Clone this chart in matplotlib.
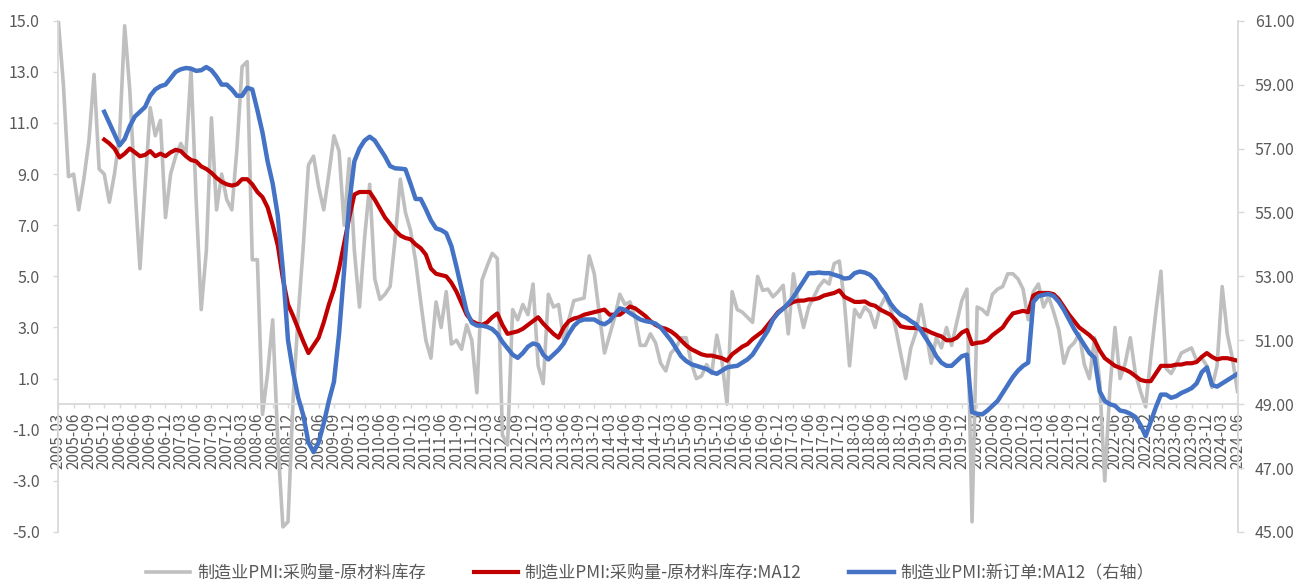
import matplotlib
matplotlib.use("Agg")
import matplotlib.pyplot as plt
import numpy as np
import pandas as pd

plt.rcParams['font.family'] = ['Noto Sans CJK SC', 'DejaVu Sans']

# monthly categories 2005-03 .. 2024-06
months = pd.period_range('2005-03', '2024-06', freq='M').strftime('%Y-%m').tolist()

# 制造业PMI:采购量-原材料库存 (left axis)
gray = [
    15.0, 12.5, 8.9, 9.0, 7.6, 8.8, 10.3, 12.9, 9.2, 9.0,
    7.9, 9.0, 10.5, 14.8, 12.3, 8.5, 5.3, 8.5, 11.6, 10.5,
    11.1, 7.3, 9.0, 9.7, 10.2, 9.8, 13.1, 8.0, 3.7, 6.0,
    11.2, 7.6, 9.0, 8.0, 7.6, 10.0, 13.2, 13.4, 5.65, 5.65,
    -0.4, 1.2, 3.3, -1.5, -4.8, -4.6, 0.2, 3.5, 6.2, 9.35,
    9.7, 8.5, 7.6, 9.0, 10.5, 9.9, 7.0, 9.6, 6.0, 3.8,
    6.5, 8.6, 4.9, 4.1, 4.3, 4.6, 6.5, 8.8, 7.5, 6.8,
    5.6, 4.0, 2.5, 1.8, 4.0, 3.0, 4.4, 2.35, 2.5, 2.15,
    3.1, 2.5, 0.45, 4.85, 5.4, 5.9, 5.7, -1.2, -1.6, 3.7,
    3.3, 3.9, 3.5, 4.7, 1.5, 0.8, 4.3, 3.8, 3.9, 2.5,
    3.3, 4.05, 4.1, 4.15, 5.8, 5.1, 3.5, 2.0, 2.7, 3.4,
    4.3, 3.9, 4.0, 3.4, 2.3, 2.3, 2.75, 2.4, 1.6, 1.3,
    2.0, 2.2, 2.6, 2.6, 1.6, 1.0, 1.1, 1.55, 1.2, 2.7,
    1.7, 0.0, 4.4, 3.7, 3.6, 3.4, 3.2, 5.0, 4.45, 4.5,
    4.2, 4.4, 4.65, 2.75, 5.1, 3.9, 3.0, 3.8, 4.2, 4.6,
    4.85, 4.7, 5.5, 5.6, 4.0, 1.5, 3.7, 3.4, 3.8, 3.6,
    3.0, 3.8, 4.2, 3.8, 3.0, 2.0, 1.0, 2.2, 2.8, 3.9,
    2.8, 1.6, 2.6, 2.2, 3.0, 2.3, 3.2, 4.05, 4.5, -4.6,
    3.8, 3.7, 3.5, 4.3, 4.5, 4.6, 5.1, 5.1, 4.9, 4.5,
    3.3, 4.4, 4.7, 3.8, 4.2, 3.6, 2.9, 1.6, 2.2, 2.4,
    2.75, 1.55, 1.0, 2.6, 0.9, -3.0, 0.6, 3.0, 1.0, 1.6,
    2.6, 1.2, 0.5, -0.1, 1.8, 3.6, 5.2, 1.4, 1.2, 1.55,
    2.0, 2.1, 2.2, 1.7, 1.8, 1.5, 0.65, 1.5, 4.6, 2.75,
    1.8, 0.5,
]

ma_start = '2005-12'
# 制造业PMI:采购量-原材料库存:MA12 (left axis), from 2005-12
red = [
    10.35, 10.2, 10.0, 9.65, 9.8, 10.0, 9.85, 9.7, 9.75, 9.9, 9.7,
    9.8, 9.7, 9.85, 9.95, 9.9, 9.7, 9.55, 9.5, 9.3, 9.2,
    9.05, 8.85, 8.7, 8.6, 8.55, 8.6, 8.8, 8.8, 8.6, 8.3,
    8.1, 7.7, 7.0, 6.2, 4.9, 3.9, 3.45, 2.95, 2.45, 2.0,
    2.3, 2.6, 3.2, 3.9, 4.5, 5.3, 6.3, 7.3, 8.2, 8.3,
    8.3, 8.3, 8.0, 7.65, 7.3, 7.05, 6.8, 6.6, 6.5, 6.45,
    6.25, 6.1, 5.85, 5.3, 5.1, 5.05, 5.0, 4.75, 4.4, 3.95,
    3.5, 3.25, 3.15, 3.1, 3.2, 3.4, 3.55, 3.1, 2.75, 2.8,
    2.85, 2.95, 3.1, 3.25, 3.4, 3.15, 2.95, 2.75, 2.6, 3.0,
    3.25, 3.35, 3.4, 3.5, 3.55, 3.6, 3.65, 3.7, 3.5, 3.5,
    3.5, 3.65, 3.82, 3.75, 3.6, 3.45, 3.25, 3.1, 3.0, 2.95,
    2.85, 2.7, 2.5, 2.3, 2.15, 2.05, 1.95, 1.9, 1.9, 1.85,
    1.8, 1.7, 1.95, 2.1, 2.25, 2.35, 2.55, 2.7, 2.85, 3.1,
    3.35, 3.6, 3.75, 3.9, 4.0, 4.05, 4.05, 4.1, 4.1, 4.15,
    4.25, 4.3, 4.35, 4.45, 4.2, 4.1, 4.0, 4.0, 4.02, 3.9,
    3.85, 3.7, 3.6, 3.5, 3.3, 3.05, 3.0, 2.98, 2.98, 2.95,
    2.9, 2.8, 2.72, 2.65, 2.5, 2.5, 2.6, 2.8, 2.9, 2.35,
    2.4, 2.42, 2.5, 2.7, 2.85, 3.0, 3.3, 3.55, 3.6, 3.65,
    3.6, 4.25, 4.35, 4.35, 4.35, 4.3, 4.1, 3.8, 3.5, 3.25,
    3.0, 2.85, 2.7, 2.5, 2.1, 1.8, 1.65, 1.5, 1.42, 1.35,
    1.25, 1.1, 0.95, 0.9, 0.9, 1.2, 1.5, 1.5, 1.5, 1.55,
    1.55, 1.6, 1.6, 1.65, 1.85, 2.0, 1.85, 1.75, 1.8, 1.8,
    1.75, 1.7,
]

# 制造业PMI:新订单:MA12 (right axis), from 2005-12
blue = [
    58.15, 57.8, 57.45, 57.1, 57.3, 57.7, 58.0, 58.15, 58.3, 58.65, 58.85,
    58.95, 59.0, 59.2, 59.4, 59.48, 59.52, 59.5, 59.43, 59.45, 59.55,
    59.45, 59.25, 59.0, 59.0, 58.85, 58.65, 58.65, 58.9, 58.85, 58.2,
    57.5, 56.6, 55.9, 54.9, 53.2, 51.0, 50.0, 49.2, 48.65, 47.8,
    47.5, 47.8, 48.4, 49.1, 49.7, 51.2, 53.2, 55.3, 56.6, 57.0,
    57.25, 57.37, 57.25, 57.0, 56.75, 56.45, 56.38, 56.37, 56.35, 55.9,
    55.42, 55.42, 55.1, 54.75, 54.5, 54.45, 54.35, 53.95, 53.3, 52.6,
    51.9, 51.55, 51.46, 51.46, 51.42, 51.35, 51.2, 50.95, 50.75, 50.55,
    50.45, 50.6, 50.8, 50.9, 50.85, 50.55, 50.4, 50.55, 50.7, 50.9,
    51.2, 51.45, 51.6, 51.65, 51.65, 51.65, 51.55, 51.5, 51.6, 51.8,
    52.0, 51.95, 51.85, 51.75, 51.65, 51.6, 51.57, 51.52, 51.4, 51.2,
    51.0, 50.75, 50.5, 50.35, 50.25, 50.2, 50.15, 50.1, 50.0, 49.95,
    50.05, 50.15, 50.18, 50.2, 50.3, 50.4, 50.55, 50.8, 51.05, 51.3,
    51.65, 51.85, 51.99, 52.15, 52.35, 52.6, 52.85, 53.1, 53.1, 53.12,
    53.1, 53.1, 53.05, 53.0, 52.93, 52.95, 53.1, 53.15, 53.12, 53.05,
    52.9, 52.65, 52.45, 52.15, 51.95, 51.8, 51.72, 51.6, 51.5, 51.3,
    51.05, 50.8, 50.5, 50.3, 50.2, 50.2, 50.35, 50.5, 50.55, 48.75,
    48.7, 48.68, 48.8, 48.95, 49.1, 49.35, 49.6, 49.85, 50.05, 50.2,
    50.3, 52.2, 52.38, 52.42, 52.45, 52.38, 52.2, 51.95, 51.65, 51.35,
    51.1, 50.85, 50.6, 50.45, 49.4, 49.1, 49.0, 48.95, 48.8, 48.77,
    48.7, 48.6, 48.35, 48.0, 48.45, 48.9, 49.3, 49.3, 49.2, 49.25,
    49.35, 49.42, 49.5, 49.65, 50.0, 50.15, 49.6, 49.55, 49.65, 49.75,
    49.85, 49.95,
]

labels = ['制造业PMI:采购量-原材料库存', '制造业PMI:采购量-原材料库存:MA12', '制造业PMI:新订单:MA12（右轴）']
left_ticks = np.arange(-5, 16, 2)
right_ticks = np.arange(45, 62, 2)

TXT = '#595959'
AX = '#D9D9D9'

W, H = 1309, 585
fig = plt.figure(figsize=(W / 100, H / 100), dpi=100)
L, R, T, B = 58.3, 1238, 20.7, 532
ax = fig.add_axes([L / W, 1 - B / H, (R - L) / W, (B - T) / H])

x = np.arange(len(months))
s = months.index(ma_start)
xm = x[s:s + len(red)]

l1, = ax.plot(x, gray, color='#BFBFBF', lw=2.6, zorder=2, solid_joinstyle='round')
l2, = ax.plot(xm, red, color='#C00000', lw=3.0, zorder=3, solid_joinstyle='round')
ax.set_ylim(-5, 15)
ax.set_xlim(0, 231.1)

ax.set_yticks(left_ticks)
ax.set_yticklabels([f'{v:.1f}' for v in left_ticks])
ax.set_xticks(x[::3])
ax.set_xticklabels(months[::3])

for sp in ['top', 'right']:
    ax.spines[sp].set_visible(False)
ax.spines['bottom'].set_position(('data', 0))
ax.spines['bottom'].set_color(AX)
ax.spines['left'].set_color(AX)
ax.spines['bottom'].set_linewidth(1.3)
ax.spines['left'].set_linewidth(1.3)
ax.tick_params(axis='y', colors=AX, labelcolor=TXT, labelsize=11.5, length=3.5, width=1, pad=10)
ax.tick_params(axis='x', colors=AX, labelcolor=TXT, labelsize=11, length=3, width=1, pad=3,
               labelrotation=90)

ax2 = ax.twinx()
l3, = ax2.plot(xm, blue, color='#4472C4', lw=3.2, solid_joinstyle='round')
ax2.set_ylim(45, 61)
ax2.set_yticks(right_ticks)
ax2.set_yticklabels([f'{v:.2f}' for v in right_ticks])
for sp in ['top', 'left', 'bottom']:
    ax2.spines[sp].set_visible(False)
ax2.spines['right'].set_color(AX)
ax2.spines['right'].set_linewidth(1.3)
ax2.tick_params(axis='y', colors=AX, labelcolor=TXT, labelsize=11.5, length=4, width=1, pad=8)

fig.legend([l1, l2, l3], labels, loc='center', bbox_to_anchor=(650 / W, 1 - 573 / H),
           ncol=3, frameon=False, fontsize=12.3, handlelength=2.6, columnspacing=2.8,
           handletextpad=0.4, labelcolor=TXT)

fig.savefig('out.png', dpi=100)
